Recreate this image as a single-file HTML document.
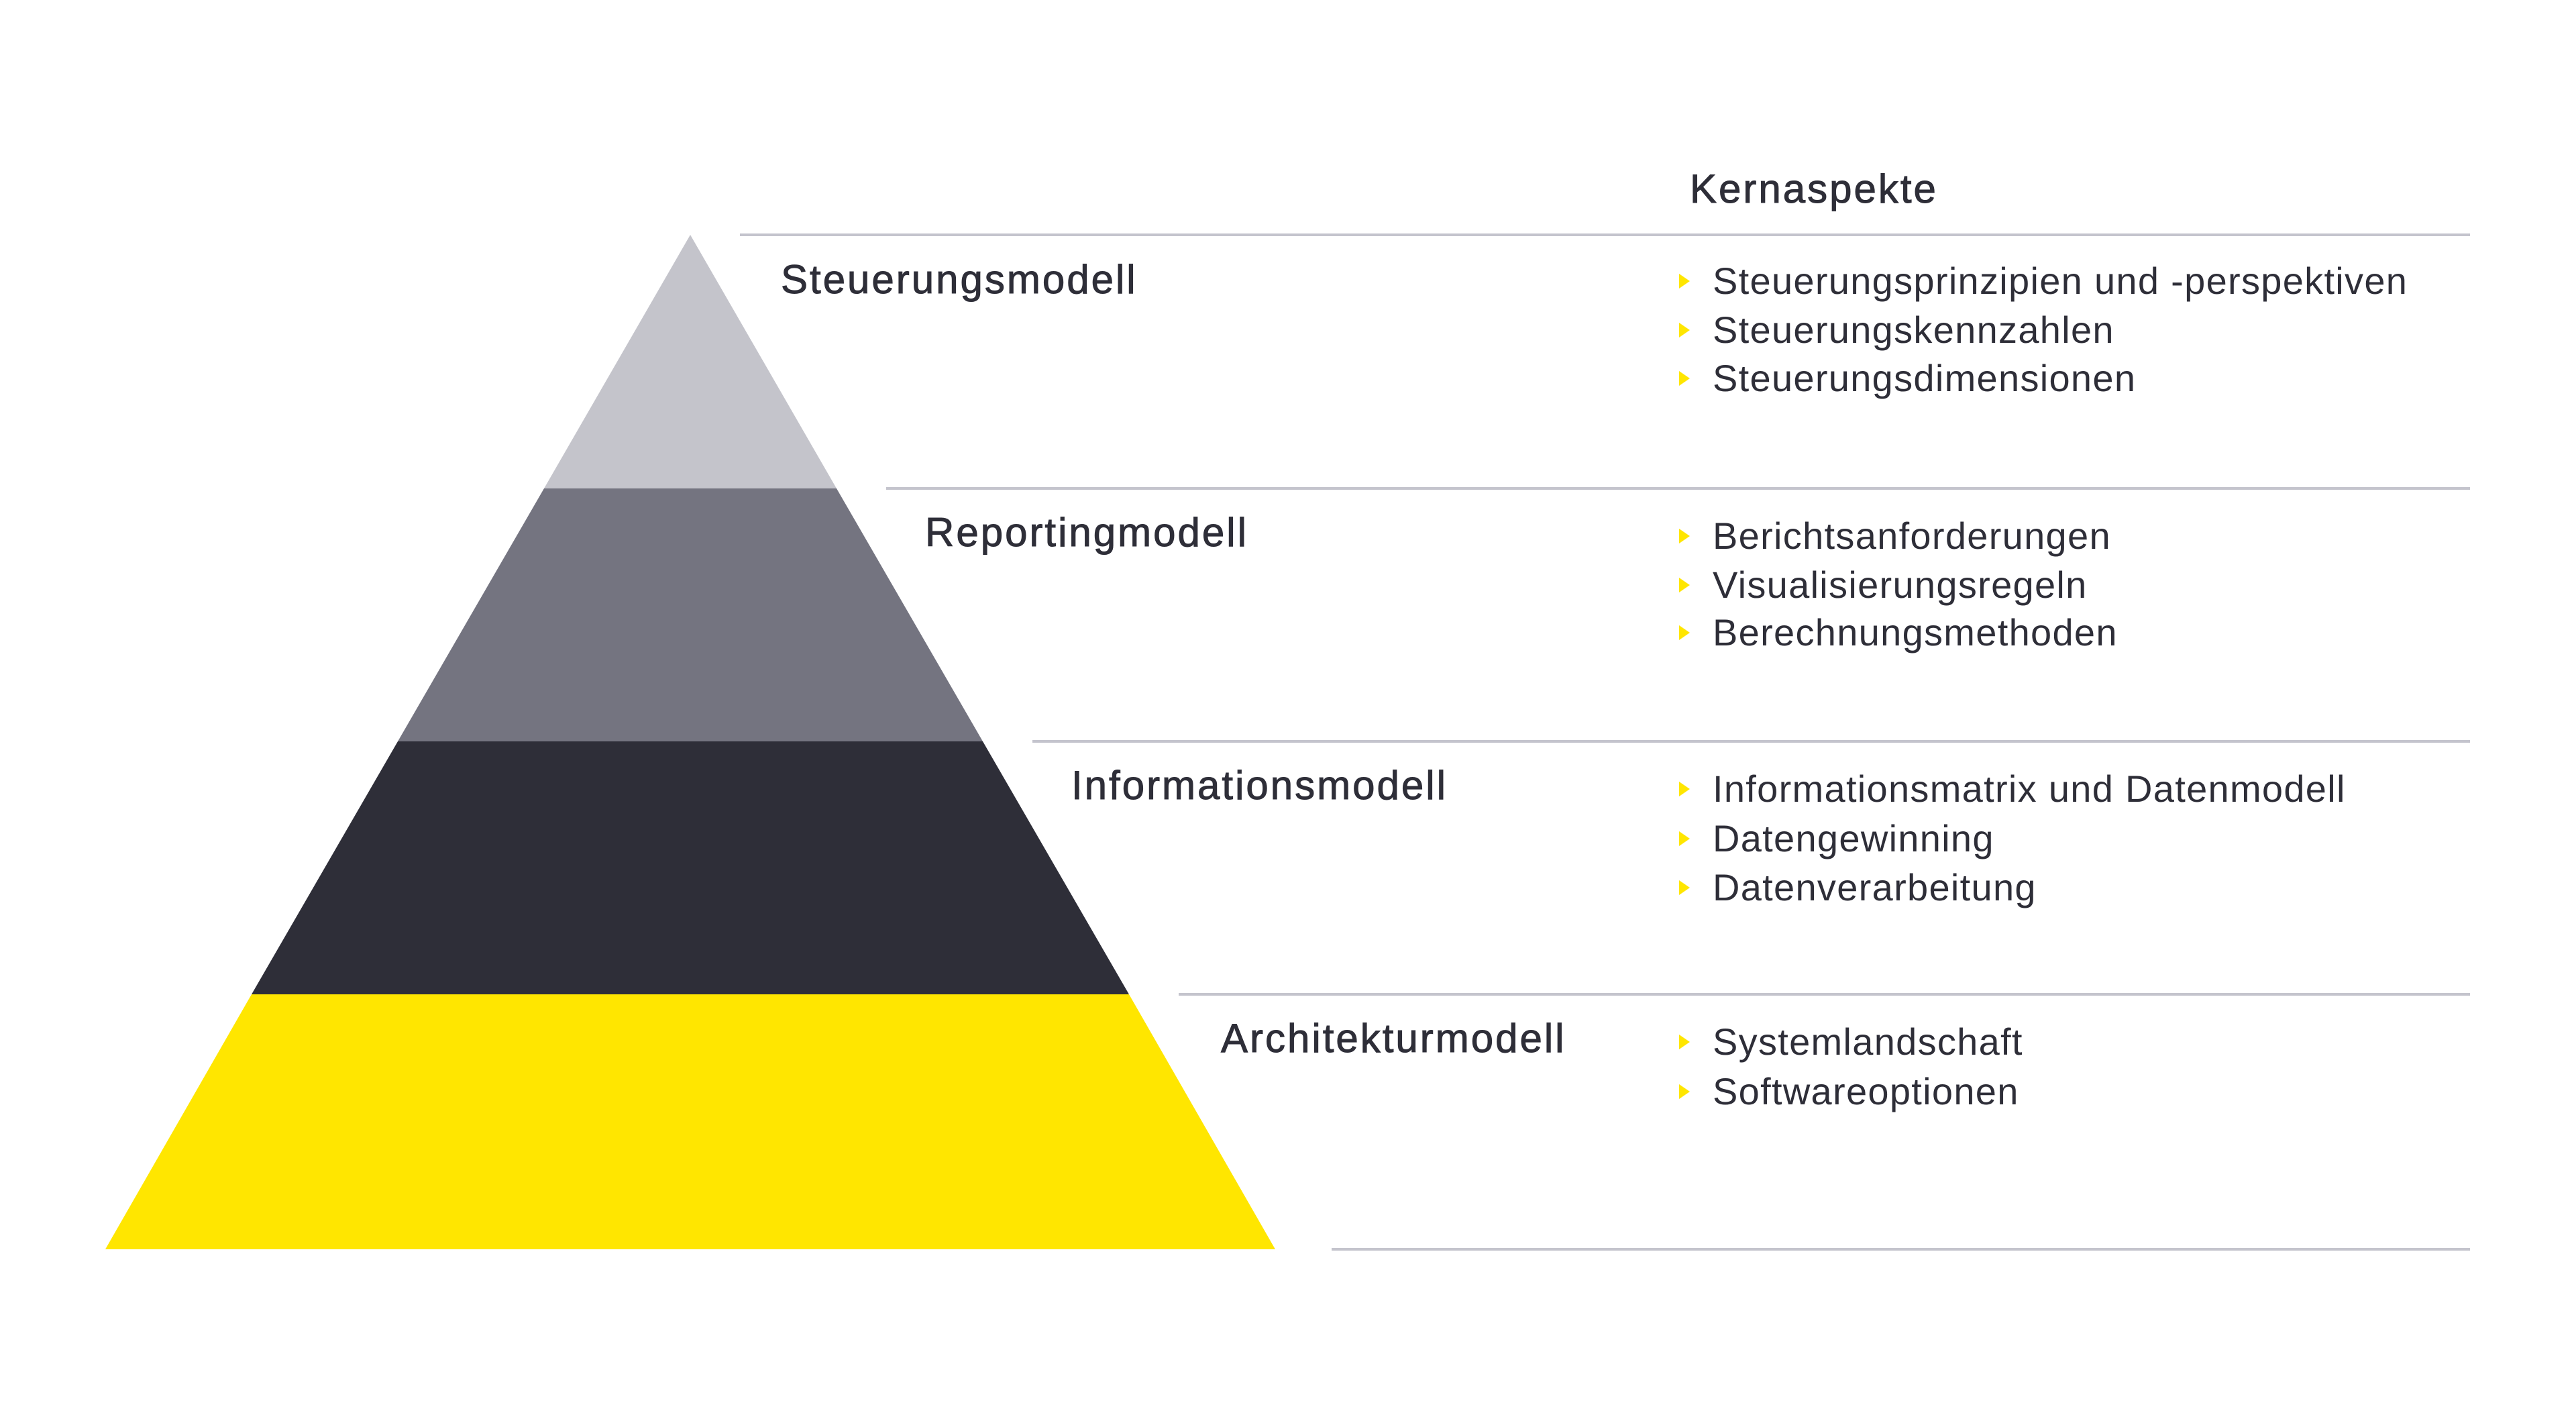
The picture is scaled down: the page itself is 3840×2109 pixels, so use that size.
<!DOCTYPE html>
<html><head><meta charset="utf-8"><style>
html,body{margin:0;padding:0;background:#fff;width:3840px;height:2109px;overflow:hidden;position:relative;font-family:"Liberation Sans",sans-serif;color:#2e2e38}
.t{position:absolute;white-space:nowrap;line-height:80px;height:80px}
.lbl{font-size:60px;letter-spacing:3px;-webkit-text-stroke:1px #2e2e38}
.b{font-size:56px;letter-spacing:1.3px}
.b::before{content:"";position:absolute;left:-50px;top:29px;border-left:16px solid #ffe600;border-top:11px solid transparent;border-bottom:11px solid transparent}
</style></head><body>
<svg width="3840" height="2109" style="position:absolute;left:0;top:0">
<polygon points="1029,350 1247,728 811,728" fill="#c4c4cb"/>
<polygon points="811,728 1247,728 1465,1105 593,1105" fill="#747480"/>
<polygon points="593,1105 1465,1105 1683,1482 375,1482" fill="#2e2e38"/>
<polygon points="375,1482 1683,1482 1901,1862 157,1862" fill="#ffe600"/>
<g stroke="#c4c4cd" stroke-width="4">
<line x1="1103" y1="350" x2="3682" y2="350"/>
<line x1="1321" y1="728" x2="3682" y2="728"/>
<line x1="1539" y1="1105" x2="3682" y2="1105"/>
<line x1="1757" y1="1482" x2="3682" y2="1482"/>
<line x1="1985" y1="1862" x2="3682" y2="1862"/>
</g></svg>
<div class="t lbl" style="left:2519px;top:242px">Kernaspekte</div>
<div class="t lbl" style="left:1164px;top:377px">Steuerungsmodell</div>
<div class="t lbl" style="left:1379px;top:754px">Reportingmodell</div>
<div class="t lbl" style="left:1597px;top:1131px">Informationsmodell</div>
<div class="t lbl" style="left:1820px;top:1508px">Architekturmodell</div>
<div class="t b" style="left:2553px;top:379px">Steuerungsprinzipien und -perspektiven</div>
<div class="t b" style="left:2553px;top:452px">Steuerungskennzahlen</div>
<div class="t b" style="left:2553px;top:524px">Steuerungsdimensionen</div>
<div class="t b" style="left:2553px;top:759px">Berichtsanforderungen</div>
<div class="t b" style="left:2553px;top:832px">Visualisierungsregeln</div>
<div class="t b" style="left:2553px;top:903px">Berechnungsmethoden</div>
<div class="t b" style="left:2553px;top:1136px">Informationsmatrix und Datenmodell</div>
<div class="t b" style="left:2553px;top:1210px">Datengewinning</div>
<div class="t b" style="left:2553px;top:1283px">Datenverarbeitung</div>
<div class="t b" style="left:2553px;top:1513px">Systemlandschaft</div>
<div class="t b" style="left:2553px;top:1587px">Softwareoptionen</div>
</body></html>
